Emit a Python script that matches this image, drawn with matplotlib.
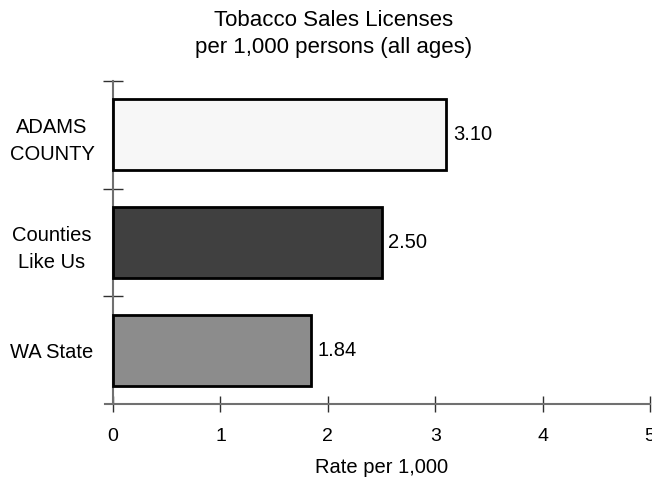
import matplotlib
matplotlib.use("Agg")
import matplotlib.pyplot as plt
import numpy as np

plt.rcParams["font.family"] = ["Liberation Sans", "DejaVu Sans"]

categories = ["ADAMS\nCOUNTY", "Counties\nLike Us", "WA State"]
values = [3.10, 2.50, 1.84]
labels = ["3.10", "2.50", "1.84"]
colors = ["#f7f7f7", "#404040", "#8c8c8c"]
xticks = [0, 1, 2, 3, 4, 5]

W, H = 652, 479
fig = plt.figure(figsize=(W / 100, H / 100), dpi=100)
ax = fig.add_axes([105 / W, 1 - 404 / H, 545 / W, 323 / H])

y = np.arange(len(categories))
ax.barh(y, values, height=0.66, color=colors, edgecolor="black", linewidth=2, zorder=3)
for yi, v, lab in zip(y, values, labels):
    ax.annotate(lab, (v, yi), xytext=(5, 0), textcoords="offset points",
                va="center", ha="left", fontsize=14.5)

ax.set_xlim(-0.075, 5)
ax.set_ylim(2.5, -0.5)
for s in ["top", "right"]:
    ax.spines[s].set_visible(False)
ax.spines["left"].set_position(("data", 0))
for s in ["left", "bottom"]:
    ax.spines[s].set_color("#707070")
    ax.spines[s].set_linewidth(1.5)

ax.set_xticks(xticks)
ax.set_xticklabels([str(t) for t in xticks], fontsize=14)
ax.tick_params(axis="x", direction="inout", length=11, width=1, color="#303030", pad=12)

ax.set_yticks([-0.5, 0.5, 1.5])
ax.set_yticklabels([])
ax.tick_params(axis="y", which="major", direction="inout", length=14, width=1, color="#303030")
ax.set_yticks(y, minor=True)
ax.set_yticklabels(categories, minor=True, fontsize=14.5, ha="center",
                   multialignment="center", linespacing=1.55)
ax.tick_params(axis="y", which="minor", length=0, pad=44)

ax.set_xlabel("Rate per 1,000", fontsize=14.5)
ax.xaxis.set_label_coords(0.508, -0.167)
fig.text(334 / W, 1 - 34 / H, "Tobacco Sales Licenses\nper 1,000 persons (all ages)",
         ha="center", va="center", fontsize=16, linespacing=1.4)

fig.savefig("out.png", dpi=100)
